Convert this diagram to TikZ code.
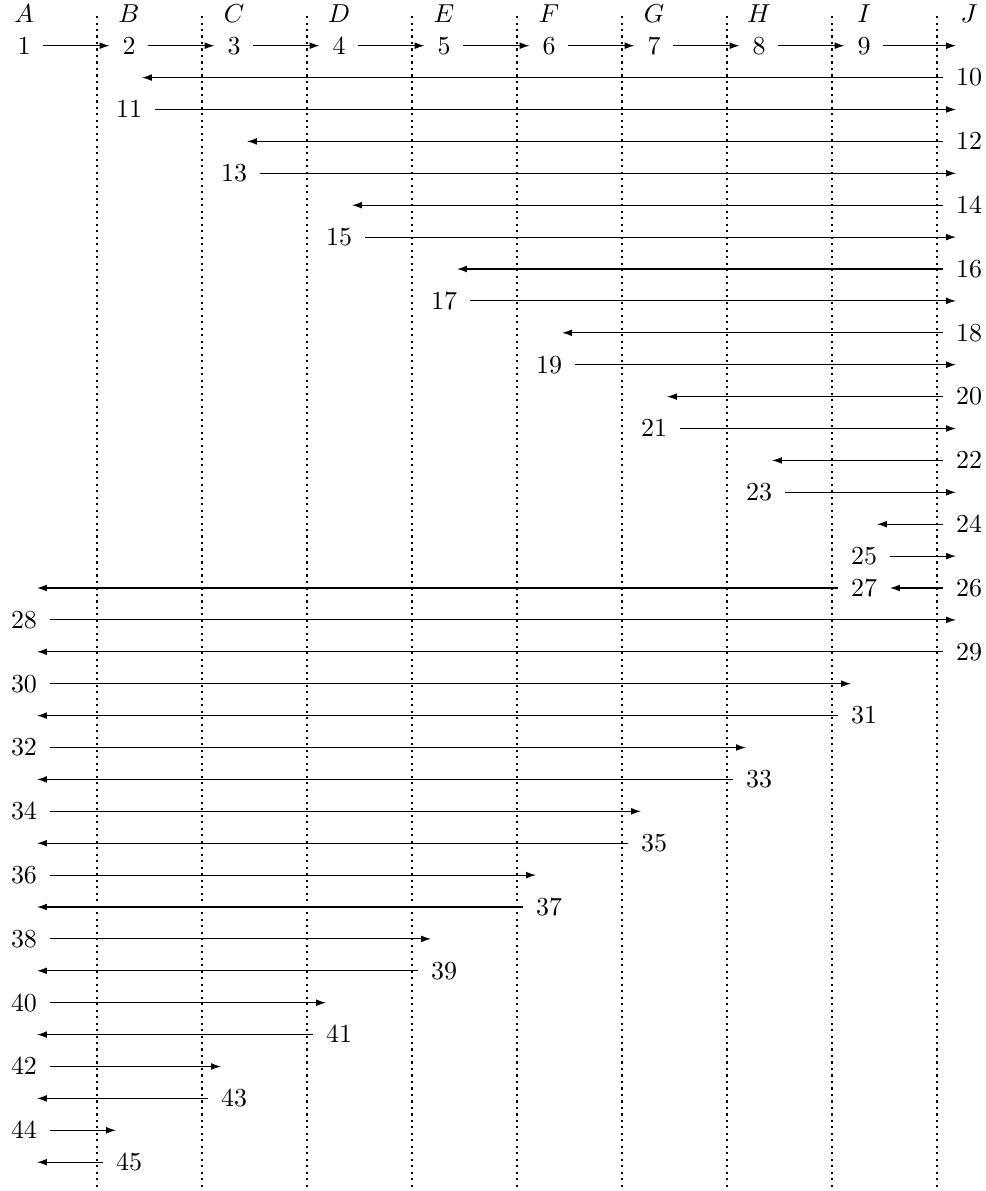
\documentclass[tikz,border=0pt]{standalone}
\usetikzlibrary{arrows.meta}
\newcommand\mycell[4]{\node[cell] (#1) at ({24+105*#2},{13.8+31.9*#3}) {#4};}
\begin{document}
\begin{tikzpicture}[x=0.385pt,y=-0.385pt,
  cell/.style={inner xsep=4.8pt, inner ysep=0pt, text height=6.44pt, text depth=0pt, anchor=center},
  arr/.style={-{Latex[length=3.8pt,width=2.6pt]}, line width=0.45pt},
  divider/.style={line width=0.9pt, dash pattern=on 0.8pt off 1.7pt}]
\useasboundingbox (0,0) rectangle (986,1191);
% column dividers
\foreach \k in {0,...,8} {
  \draw[divider] ({97+105*\k},16) -- ({97+105*\k},1191);
}
% column labels
\foreach \c [count=\k from 0] in {A,B,C,D,E,F,G,H,I,J} {
  \node[cell] (lab\c) at ({24+105*\k},13.8) {$\c$};
}
% row 1
\mycell{n1}{0}{1}{1}
\mycell{n2}{1}{1}{2}
\mycell{n3}{2}{1}{3}
\mycell{n4}{3}{1}{4}
\mycell{n5}{4}{1}{5}
\mycell{n6}{5}{1}{6}
\mycell{n7}{6}{1}{7}
\mycell{n8}{7}{1}{8}
\mycell{n9}{8}{1}{9}
\mycell{e1}{9}{1}{}
\draw[arr] (n1) -- (n2);
\draw[arr] (n2) -- (n3);
\draw[arr] (n3) -- (n4);
\draw[arr] (n4) -- (n5);
\draw[arr] (n5) -- (n6);
\draw[arr] (n6) -- (n7);
\draw[arr] (n7) -- (n8);
\draw[arr] (n8) -- (n9);
\draw[arr] (n9) -- (e1);
% rows 2..17
\mycell{n10}{9}{2}{10}  \mycell{e2}{1}{2}{}   \draw[arr] (n10) -- (e2);
\mycell{n11}{1}{3}{11}  \mycell{e3}{9}{3}{}   \draw[arr] (n11) -- (e3);
\mycell{n12}{9}{4}{12}  \mycell{e4}{2}{4}{}   \draw[arr] (n12) -- (e4);
\mycell{n13}{2}{5}{13}  \mycell{e5}{9}{5}{}   \draw[arr] (n13) -- (e5);
\mycell{n14}{9}{6}{14}  \mycell{e6}{3}{6}{}   \draw[arr] (n14) -- (e6);
\mycell{n15}{3}{7}{15}  \mycell{e7}{9}{7}{}   \draw[arr] (n15) -- (e7);
\mycell{n16}{9}{8}{16}  \mycell{e8}{4}{8}{}   \draw[arr] (n16) -- (e8);
\mycell{n17}{4}{9}{17}  \mycell{e9}{9}{9}{}   \draw[arr] (n17) -- (e9);
\mycell{n18}{9}{10}{18} \mycell{e10}{5}{10}{} \draw[arr] (n18) -- (e10);
\mycell{n19}{5}{11}{19} \mycell{e11}{9}{11}{} \draw[arr] (n19) -- (e11);
\mycell{n20}{9}{12}{20} \mycell{e12}{6}{12}{} \draw[arr] (n20) -- (e12);
\mycell{n21}{6}{13}{21} \mycell{e13}{9}{13}{} \draw[arr] (n21) -- (e13);
\mycell{n22}{9}{14}{22} \mycell{e14}{7}{14}{} \draw[arr] (n22) -- (e14);
\mycell{n23}{7}{15}{23} \mycell{e15}{9}{15}{} \draw[arr] (n23) -- (e15);
\mycell{n24}{9}{16}{24} \mycell{e16}{8}{16}{} \draw[arr] (n24) -- (e16);
\mycell{n25}{8}{17}{25} \mycell{e17}{9}{17}{} \draw[arr] (n25) -- (e17);
% row 18
\mycell{n26}{9}{18}{26} \mycell{n27}{8}{18}{27} \mycell{e18}{0}{18}{}
\draw[arr] (n26) -- (n27);
\draw[arr] (n27) -- (e18);
% rows 19..36
\mycell{n28}{0}{19}{28} \mycell{e19}{9}{19}{} \draw[arr] (n28) -- (e19);
\mycell{n29}{9}{20}{29} \mycell{e20}{0}{20}{} \draw[arr] (n29) -- (e20);
\mycell{n30}{0}{21}{30} \mycell{e21}{8}{21}{} \draw[arr] (n30) -- (e21);
\mycell{n31}{8}{22}{31} \mycell{e22}{0}{22}{} \draw[arr] (n31) -- (e22);
\mycell{n32}{0}{23}{32} \mycell{e23}{7}{23}{} \draw[arr] (n32) -- (e23);
\mycell{n33}{7}{24}{33} \mycell{e24}{0}{24}{} \draw[arr] (n33) -- (e24);
\mycell{n34}{0}{25}{34} \mycell{e25}{6}{25}{} \draw[arr] (n34) -- (e25);
\mycell{n35}{6}{26}{35} \mycell{e26}{0}{26}{} \draw[arr] (n35) -- (e26);
\mycell{n36}{0}{27}{36} \mycell{e27}{5}{27}{} \draw[arr] (n36) -- (e27);
\mycell{n37}{5}{28}{37} \mycell{e28}{0}{28}{} \draw[arr] (n37) -- (e28);
\mycell{n38}{0}{29}{38} \mycell{e29}{4}{29}{} \draw[arr] (n38) -- (e29);
\mycell{n39}{4}{30}{39} \mycell{e30}{0}{30}{} \draw[arr] (n39) -- (e30);
\mycell{n40}{0}{31}{40} \mycell{e31}{3}{31}{} \draw[arr] (n40) -- (e31);
\mycell{n41}{3}{32}{41} \mycell{e32}{0}{32}{} \draw[arr] (n41) -- (e32);
\mycell{n42}{0}{33}{42} \mycell{e33}{2}{33}{} \draw[arr] (n42) -- (e33);
\mycell{n43}{2}{34}{43} \mycell{e34}{0}{34}{} \draw[arr] (n43) -- (e34);
\mycell{n44}{0}{35}{44} \mycell{e35}{1}{35}{} \draw[arr] (n44) -- (e35);
\mycell{n45}{1}{36}{45} \mycell{e36}{0}{36}{} \draw[arr] (n45) -- (e36);
\end{tikzpicture}
\end{document}
